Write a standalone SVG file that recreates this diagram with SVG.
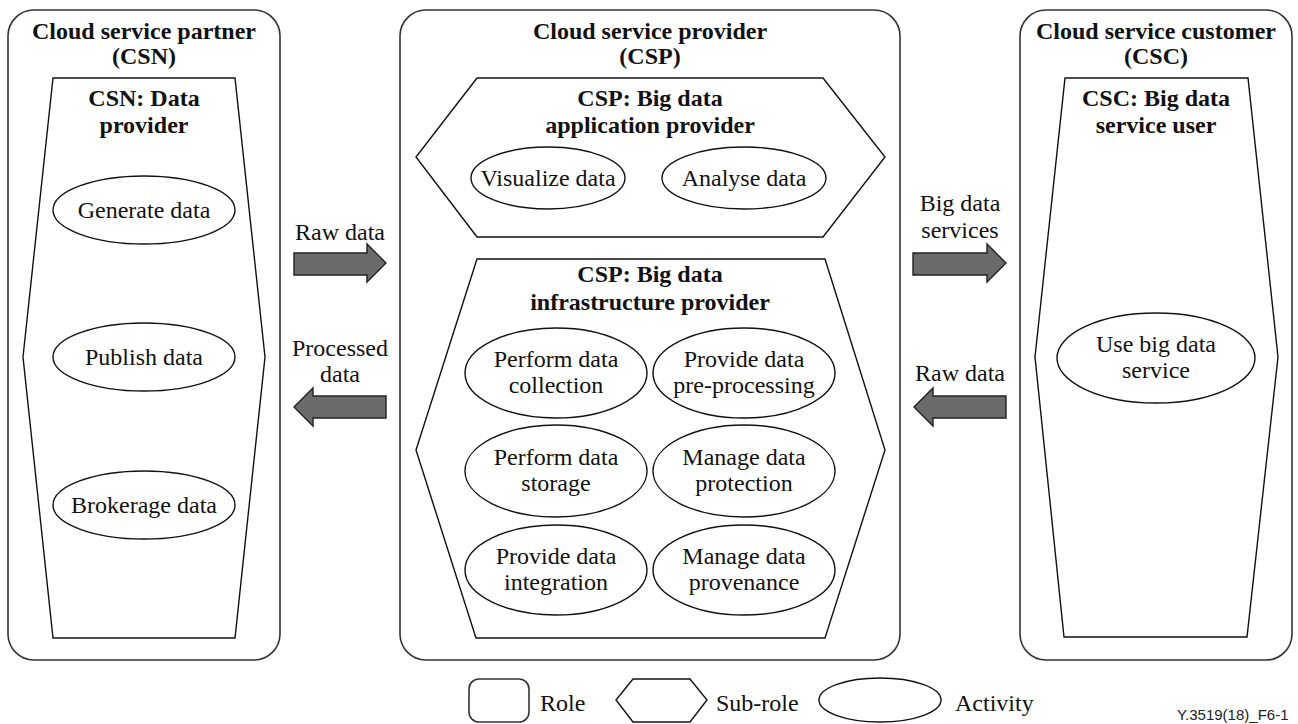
<svg xmlns="http://www.w3.org/2000/svg" width="1298" height="724" viewBox="0 0 1298 724">
<style>
  .role{fill:#fff;stroke:#333;stroke-width:1.6}
  .sub{fill:#fff;stroke:#111;stroke-width:1.4}
  .act{fill:#fff;stroke:#111;stroke-width:1.4}
  .arr{fill:#6b6b6b;stroke:#222;stroke-width:1.4}
  text{font-family:"Liberation Serif","Times New Roman",serif;font-size:24px;fill:#111;text-anchor:middle}
  .b{font-weight:bold}
  .lbl{text-anchor:start}
  .fig{font-family:"Liberation Sans",Arial,sans-serif;font-size:15px;text-anchor:start;fill:#222}
</style>
<rect width="1298" height="724" fill="#fff"/>

<g id="csn">
  <rect class="role" x="8" y="10" width="272" height="650" rx="26"/>
  <text class="b" x="144" y="39">Cloud service partner</text>
  <text class="b" x="144" y="64">(CSN)</text>
  <g id="csn-data-provider">
    <polygon class="sub" points="53,78 235,78 265,357 235,638 53,638 23,357"/>
    <text class="b" x="144" y="106">CSN: Data</text>
    <text class="b" x="144" y="133">provider</text>
  </g>
  <g id="generate-data">
    <ellipse class="act" cx="144" cy="210" rx="91" ry="34"/>
    <text x="144" y="218">Generate data</text>
  </g>
  <g id="publish-data">
    <ellipse class="act" cx="144" cy="357" rx="91" ry="34"/>
    <text x="144" y="365">Publish data</text>
  </g>
  <g id="brokerage-data">
    <ellipse class="act" cx="144" cy="505" rx="91" ry="34"/>
    <text x="144" y="513">Brokerage data</text>
  </g>
</g>

<g id="csp">
  <rect class="role" x="400" y="10" width="500" height="650" rx="26"/>
  <text class="b" x="650" y="39">Cloud service provider</text>
  <text class="b" x="650" y="64">(CSP)</text>
  <g id="csp-app-provider">
    <polygon class="sub" points="477,78 823,78 885,157 823,237 477,237 416,157"/>
    <text class="b" x="650" y="106">CSP: Big data</text>
    <text class="b" x="650" y="133">application provider</text>
  </g>
  <g id="visualize-data">
    <ellipse class="act" cx="548" cy="178" rx="77" ry="31"/>
    <text x="548" y="186">Visualize data</text>
  </g>
  <g id="analyse-data">
    <ellipse class="act" cx="744" cy="178" rx="82" ry="31"/>
    <text x="744" y="186">Analyse data</text>
  </g>
  <g id="csp-infra-provider">
    <polygon class="sub" points="477,259 825,259 885,450 825,638 476,638 416,450"/>
    <text class="b" x="650" y="282">CSP: Big data</text>
    <text class="b" x="650" y="310">infrastructure provider</text>
  </g>
  <g id="perform-collection">
    <ellipse class="act" cx="556" cy="373" rx="91" ry="45"/>
    <text x="556" y="367">Perform data</text>
    <text x="556" y="393">collection</text>
  </g>
  <g id="provide-preprocessing">
    <ellipse class="act" cx="744" cy="373" rx="91" ry="45"/>
    <text x="744" y="367">Provide data</text>
    <text x="744" y="393">pre-processing</text>
  </g>
  <g id="perform-storage">
    <ellipse class="act" cx="556" cy="471" rx="91" ry="46"/>
    <text x="556" y="465">Perform data</text>
    <text x="556" y="491">storage</text>
  </g>
  <g id="manage-protection">
    <ellipse class="act" cx="744" cy="471" rx="91" ry="46"/>
    <text x="744" y="465">Manage data</text>
    <text x="744" y="491">protection</text>
  </g>
  <g id="provide-integration">
    <ellipse class="act" cx="556" cy="570" rx="91" ry="45"/>
    <text x="556" y="564">Provide data</text>
    <text x="556" y="590">integration</text>
  </g>
  <g id="manage-provenance">
    <ellipse class="act" cx="744" cy="570" rx="91" ry="45"/>
    <text x="744" y="564">Manage data</text>
    <text x="744" y="590">provenance</text>
  </g>
</g>

<g id="csc">
  <rect class="role" x="1020" y="10" width="272" height="650" rx="26"/>
  <text class="b" x="1156" y="39">Cloud service customer</text>
  <text class="b" x="1156" y="64">(CSC)</text>
  <g id="csc-service-user">
    <polygon class="sub" points="1065,78 1248,78 1278,357 1247,637 1064,637 1035,357"/>
    <text class="b" x="1156" y="106">CSC: Big data</text>
    <text class="b" x="1156" y="133">service user</text>
  </g>
  <g id="use-service">
    <ellipse class="act" cx="1156" cy="358" rx="99" ry="45"/>
    <text x="1156" y="352">Use big data</text>
    <text x="1156" y="378">service</text>
  </g>
</g>

<g id="connectors">
  <g id="raw-data-in">
    <polygon class="arr" points="294,253 367,253 367,244 386,263 367,282 367,275 294,275"/>
    <text x="340" y="240">Raw data</text>
  </g>
  <g id="processed-data-out">
    <polygon class="arr" points="386,396 313,396 313,388 294,407 313,426 313,418 386,418"/>
    <text x="340" y="356">Processed</text>
    <text x="340" y="382">data</text>
  </g>
  <g id="big-data-services">
    <polygon class="arr" points="913,253 987,253 987,244 1006,263 987,282 987,275 913,275"/>
    <text x="960" y="211">Big data</text>
    <text x="960" y="238">services</text>
  </g>
  <g id="raw-data-back">
    <polygon class="arr" points="1006,396 933,396 933,388 914,407 933,426 933,418 1006,418"/>
    <text x="960" y="381">Raw data</text>
  </g>
</g>

<g id="legend">
  <rect class="role" x="469" y="679" width="60" height="43" rx="10"/>
  <text class="lbl" x="540" y="711">Role</text>
  <polygon class="sub" points="633,679 690,679 707,700 690,722 633,722 616,700"/>
  <text class="lbl" x="716" y="711">Sub-role</text>
  <ellipse class="act" cx="880" cy="700" rx="61" ry="22"/>
  <text class="lbl" x="955" y="711">Activity</text>
</g>

<text class="fig" x="1177" y="720">Y.3519(18)_F6-1</text>
</svg>
